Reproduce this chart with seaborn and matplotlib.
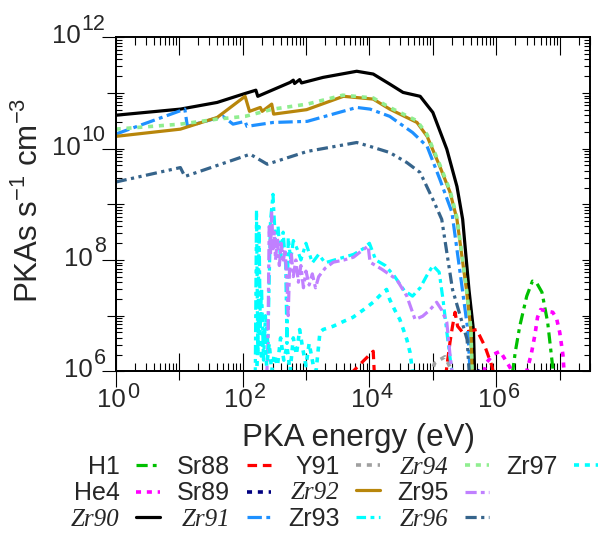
import numpy as np
import pandas as pd
import matplotlib
matplotlib.use("Agg")
import matplotlib.pyplot as plt
from matplotlib.lines import Line2D
from matplotlib.ticker import LogLocator, NullFormatter
import seaborn as sns

# Values.
# *_loge = log10(PKA energy / eV), *_logp = log10(PKAs s^-1 cm^-3)
h1_loge = [6.20, 6.30, 6.37, 6.48, 6.57, 6.64, 6.72, 6.81, 6.89, 6.93]
h1_logp = [5.5, 6.35, 6.81, 7.35, 7.62, 7.58, 7.42, 6.88, 6.07, 5.5]

he4_loge = [5.75, 5.85, 5.95, 6.06, 6.20, 6.35, 6.48, 6.55, 6.61, 6.65, 6.70, 6.80, 6.89, 6.95, 7.00, 7.05, 7.08]
he4_logp = [5.8, 6.16, 6.30, 6.36, 6.10, 5.8, 6.00, 6.30, 6.66, 6.97, 7.11, 7.08, 7.06, 6.95, 6.70, 6.30, 5.8]

zr90_loge = [0.0, 1.02, 1.60, 2.01, 2.21, 2.24, 2.75, 2.80, 2.82, 2.90, 2.93, 3.27, 3.80, 4.06,
             4.32, 4.53, 4.80, 5.00, 5.22, 5.38, 5.47, 5.57, 5.64, 5.67]
zr90_logp = [10.60, 10.71, 10.83, 10.98, 11.05, 10.94, 11.19, 11.23, 11.17, 11.24, 11.18, 11.28, 11.39, 11.34,
             11.16, 11.01, 10.94, 10.65, 9.99, 9.32, 8.73, 7.46, 6.74, 5.5]

sr88_loge = [3.70, 3.90, 4.06, 4.08, 5.20, 5.27, 5.31, 5.35, 5.39, 5.47, 5.58, 5.69, 5.82, 5.93, 5.97]
sr88_logp = [5.95, 6.18, 6.36, 5.9, 5.9, 6.52, 6.81, 7.06, 6.81, 6.70, 6.72, 6.75, 6.45, 6.10, 5.9]
sr88_seg = [0, 0, 0, 0, 1, 1, 1, 1, 1, 1, 1, 1, 1, 1, 1]

sr89_loge = [5.70, 5.74, 5.78]
sr89_logp = [5.95, 6.04, 5.95]

zr91_loge = [0.0, 1.09, 1.13, 1.69, 1.85, 2.04, 2.07, 2.48, 3.02, 3.80, 4.01, 4.32, 4.68, 4.91,
             5.11, 5.30, 5.45, 5.55, 5.61]
zr91_logp = [10.26, 10.71, 10.40, 10.58, 10.44, 10.49, 10.40, 10.47, 10.49, 10.74, 10.71, 10.58, 10.29, 10.04,
             9.45, 8.86, 7.60, 6.75, 5.5]

y91_loge = [4.95, 5.03, 5.10, 5.19, 5.26, 5.33]
y91_logp = [5.9, 6.15, 6.20, 6.26, 6.10, 5.9]

zr92_loge = [0.0, 1.02, 1.60, 2.04, 2.11, 2.28, 2.31, 2.46, 2.49, 3.01, 3.59, 4.06, 4.32, 4.75,
             4.91, 5.11, 5.27, 5.38, 5.53, 5.60, 5.63]
zr92_logp = [10.22, 10.35, 10.56, 10.94, 10.67, 10.74, 10.67, 10.80, 10.62, 10.70, 10.94, 10.89, 10.71, 10.47,
             10.22, 9.68, 9.22, 8.73, 7.46, 6.74, 5.5]

zr93_loge = [2.20, 2.22, 2.24, 2.26, 2.28, 2.30, 2.33, 2.36, 2.40, 2.44, 2.48, 2.52, 2.56, 2.60,
             2.64, 2.68, 2.70, 2.72, 2.76, 2.80, 2.86, 2.92, 3.00, 3.10, 3.20, 3.30, 3.45, 3.60,
             3.75, 3.90, 4.00, 4.10, 4.25, 4.40, 4.55, 4.68, 4.80, 4.90, 5.00, 5.10, 5.16, 5.24, 5.31]
zr93_logp = [5.9, 8.9, 6.3, 8.6, 6.8, 7.5, 6.2, 7.0, 6.5, 8.7, 9.18, 8.3, 8.6, 8.0,
             8.5, 7.9, 6.5, 8.4, 8.0, 8.35, 8.2, 8.0, 8.3, 7.95, 8.1, 7.95, 8.0, 8.05,
             8.1, 8.2, 8.3, 8.0, 7.9, 7.7, 7.45, 7.35, 7.5, 7.71, 7.90, 7.78, 7.29, 6.52, 5.9]

zr94_loge = [0.0, 1.02, 1.60, 2.04, 2.48, 3.02, 3.58, 4.06, 4.32, 4.75, 4.91, 5.11, 5.27, 5.38,
             5.53, 5.60, 5.63]
zr94_logp = [10.35, 10.44, 10.53, 10.58, 10.71, 10.80, 10.96, 10.91, 10.74, 10.50, 10.25, 9.71, 9.25, 8.76,
             7.48, 6.76, 5.5]

zr95_loge = [2.38, 2.40, 2.42, 2.44, 2.46, 2.48, 2.50, 2.52, 2.55, 2.58, 2.61, 2.64, 2.67, 2.70,
             2.72, 2.74, 2.77, 2.80, 2.84, 2.88, 2.92, 2.96, 3.00, 3.05, 3.10, 3.15, 3.20, 3.30,
             3.43, 3.60, 3.75, 3.85, 3.98, 4.01, 4.20, 4.43, 4.59, 4.72, 4.84, 4.95, 5.06, 5.14,
             5.22, 5.27, 5.31]
zr95_logp = [5.9, 6.5, 8.6, 8.1, 8.87, 8.2, 8.5, 8.0, 8.4, 7.9, 8.3, 7.95, 8.2, 7.6,
             7.0, 7.8, 8.1, 7.7, 8.0, 7.6, 7.9, 7.5, 7.8, 7.55, 7.75, 7.5, 7.7, 7.85,
             7.96, 8.0, 8.05, 8.14, 8.25, 7.96, 7.83, 7.65, 7.35, 6.93, 6.99, 7.1, 7.24, 7.1,
             6.88, 6.3, 5.9]

zr96_loge = [0.0, 1.02, 1.09, 2.12, 2.39, 3.02, 3.80, 4.01, 4.32, 4.59, 4.80, 5.00, 5.14, 5.31, 5.54, 5.60]
zr96_logp = [9.40, 9.66, 9.50, 9.90, 9.72, 9.95, 10.11, 10.04, 9.93, 9.75, 9.57, 9.09, 8.73, 7.47, 6.57, 5.5]

zr97_loge = [2.22, 2.26, 2.30, 2.34, 2.38, 2.42, 2.46, 2.50, 2.55, 2.60, 2.65, 2.70, 2.75, 2.80,
             2.85, 2.90, 2.95, 3.00, 3.05, 3.10, 3.15, 3.22, 3.27, 3.43, 3.60, 3.74, 3.90, 4.06,
             4.18, 4.27, 4.32, 4.40, 4.48, 4.59, 4.64, 4.69]
zr97_logp = [5.9, 7.0, 6.2, 6.8, 6.1, 6.5, 6.0, 6.3, 6.1, 6.6, 6.2, 6.45, 6.0, 6.6,
             6.3, 6.75, 6.4, 6.1, 6.5, 6.2, 5.9, 6.70, 6.75, 6.81, 6.9, 6.97, 7.1, 7.24,
             7.38, 7.47, 7.29, 7.1, 6.93, 6.57, 6.34, 5.9]

nuclides = ["H1", "He4", "Zr90", "Sr88", "Sr89", "Zr91", "Y91",
            "Zr92", "Zr93", "Zr94", "Zr95", "Zr96", "Zr97"]
italic_labels = {"Zr90", "Zr91", "Zr92", "Zr94", "Zr96"}

series = {
    "H1": (h1_loge, h1_logp), "He4": (he4_loge, he4_logp), "Zr90": (zr90_loge, zr90_logp),
    "Sr88": (sr88_loge, sr88_logp), "Sr89": (sr89_loge, sr89_logp), "Zr91": (zr91_loge, zr91_logp),
    "Y91": (y91_loge, y91_logp), "Zr92": (zr92_loge, zr92_logp), "Zr93": (zr93_loge, zr93_logp),
    "Zr94": (zr94_loge, zr94_logp), "Zr95": (zr95_loge, zr95_logp), "Zr96": (zr96_loge, zr96_logp),
    "Zr97": (zr97_loge, zr97_logp),
}

colors = {
    "H1": "#00c000", "He4": "#ff00ff", "Zr90": "#000000", "Sr88": "#ff0000", "Sr89": "#000080",
    "Zr91": "#1e90ff", "Y91": "#a0a0a0", "Zr92": "#b8860b", "Zr93": "#00ffff", "Zr94": "#90ee90",
    "Zr95": "#c080ff", "Zr96": "#36648b", "Zr97": "#00ffff",
}
dotted = (0, (1.4, 1.6))
styles = {
    "H1": (0, (3.5, 1.6, 1.2, 1.6)), "He4": dotted, "Zr90": "-", "Sr88": (0, (3.0, 1.8)),
    "Sr89": dotted, "Zr91": (0, (4.5, 1.4, 1.2, 1.4)), "Y91": dotted, "Zr92": "-",
    "Zr93": (0, (3.0, 1.4, 1.2, 1.4)), "Zr94": dotted, "Zr95": (0, (3.5, 1.3, 1.2, 1.3)),
    "Zr96": (0, (3.5, 1.4, 1.0, 1.4, 1.0, 1.4)), "Zr97": dotted,
}
widths = {"He4": 2.6, "Sr89": 2.6, "Y91": 2.6, "Zr94": 2.6, "Zr97": 2.6}

frames = []
for name in nuclides:
    loge, logp = series[name]
    seg = sr88_seg if name == "Sr88" else [0] * len(loge)
    frames.append(pd.DataFrame({"nuclide": name,
                                "energy": 10.0 ** np.array(loge),
                                "pkas": 10.0 ** np.array(logp),
                                "seg": seg}))
df = pd.concat(frames, ignore_index=True)

sns.set_style("ticks")
plt.rcParams["font.family"] = ["Liberation Sans", "DejaVu Sans"]
plt.rcParams["mathtext.fontset"] = "custom"
plt.rcParams["mathtext.rm"] = "Liberation Sans"
plt.rcParams["mathtext.default"] = "regular"

fig = plt.figure(figsize=(6, 5.36), dpi=100)
ax = fig.add_axes([0.1928, 0.3073, 0.7905, 0.6231])
ax.set_xscale("log")
ax.set_yscale("log")

for name in nuclides:
    sub = df[df["nuclide"] == name]
    sns.lineplot(data=sub, x="energy", y="pkas", units="seg", estimator=None, sort=False,
                 color=colors[name], linestyle=styles[name], lw=widths.get(name, 2.3),
                 legend=False, ax=ax)

ax.set_xlim(1, 3e7)
ax.set_ylim(1e6, 1e12)

for s in ax.spines.values():
    s.set_linewidth(1.4)
    s.set_color("black")

for axis in (ax.xaxis, ax.yaxis):
    axis.set_major_locator(LogLocator(base=10, numticks=20))
    axis.set_minor_locator(LogLocator(base=10, subs=np.arange(2, 10), numticks=20))
    axis.set_major_formatter(NullFormatter())
    axis.set_minor_formatter(NullFormatter())
ax.tick_params(which="both", top=True, right=True, labelbottom=False, labelleft=False,
               color="black", width=0.8)
ax.tick_params(axis="x", which="major", direction="in", length=13)
ax.tick_params(axis="x", which="minor", direction="in", length=6)
ax.tick_params(axis="y", which="major", direction="in", length=6)
ax.tick_params(axis="y", which="minor", direction="in", length=4)

# outward parts of the decade ticks (longer on the labelled ones)
secx = ax.secondary_xaxis("bottom")
secx.set_xticks([1e0, 1e2, 1e4, 1e6])
secx.set_xticks([1e1, 1e3, 1e5, 1e7], minor=True)
secx.tick_params(which="both", labelbottom=False, direction="out", width=0.8, color="black")
secx.tick_params(which="major", length=11.5)
secx.tick_params(which="minor", length=6.5)
secx.spines["bottom"].set_linewidth(1.4)

secy = ax.secondary_yaxis("left")
secy.set_yticks([1e6, 1e8, 1e10, 1e12])
secy.set_yticks([1e7, 1e9, 1e11], minor=True)
secy.tick_params(which="both", labelleft=False, direction="out", width=0.8, color="black")
secy.tick_params(which="major", length=10)
secy.tick_params(which="minor", length=6.5)
secy.spines["left"].set_linewidth(1.4)

# tick labels written as "10" with a large exponent
for e in [0, 2, 4, 6]:
    ax.annotate("10", xy=(10.0 ** e, 0), xycoords=("data", "axes fraction"),
                xytext=(7.2, -26), textcoords="offset points", ha="right", va="baseline",
                fontsize=18.5, annotation_clip=False)
    ax.annotate(str(e), xy=(10.0 ** e, 0), xycoords=("data", "axes fraction"),
                xytext=(8.1, -19.2), textcoords="offset points", ha="left", va="baseline",
                fontsize=15.5, annotation_clip=False)
for e in [6, 8, 10, 12]:
    sup = ax.annotate(str(e), xy=(0, 10.0 ** e), xycoords=("axes fraction", "data"),
                      xytext=(-7.2, 5.4), textcoords="offset points", ha="right", va="baseline",
                      fontsize=15.5, annotation_clip=False)
    ax.annotate("10", xy=(0, 10.0 ** e), xycoords=(sup, "data"),
                xytext=(-0.4, -4.3), textcoords="offset points", ha="right", va="baseline",
                fontsize=18.5, annotation_clip=False)

ax.set_xlabel("PKA energy (eV)", fontsize=22.5)
ax.xaxis.set_label_coords(0.513, -0.224)
ax.xaxis.label.set_va("baseline")
ax.set_ylabel(r"PKAs s$^{-1}$ cm$^{-3}$", fontsize=22.5)
ax.yaxis.set_label_coords(-0.164, 0.513)
ax.yaxis.label.set_va("baseline")

handles = [Line2D([], [], color=colors[n], linestyle=styles[n], lw=widths.get(n, 2.3)) for n in nuclides]
handles.append(Line2D([], [], alpha=0))
labels = nuclides + [""]
leg = fig.legend(handles, labels, ncol=5, loc="upper left", bbox_to_anchor=(0.118, 0.152),
                 frameon=False, fontsize=18, markerfirst=False, handlelength=0.96,
                 handletextpad=0.65, columnspacing=0.7, labelspacing=0.11,
                 borderpad=0, borderaxespad=0)
for t in leg.get_texts():
    if t.get_text() in italic_labels:
        t.set_fontfamily("Liberation Serif")
        t.set_fontstyle("italic")

fig.savefig("out.png", dpi=100)
